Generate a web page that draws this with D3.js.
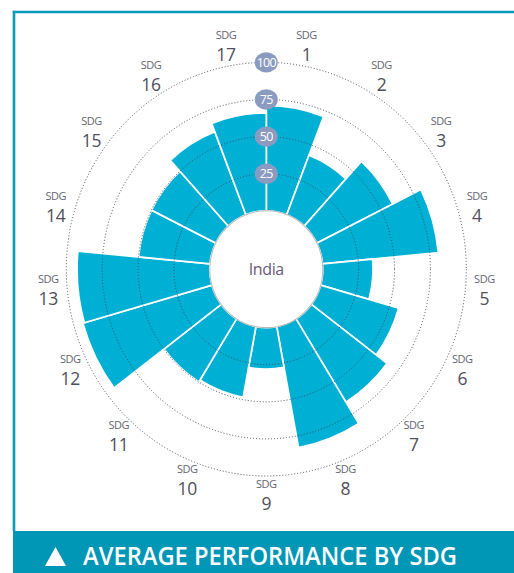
<!DOCTYPE html>
<html><head><meta charset="utf-8">
<script src="https://cdn.jsdelivr.net/npm/d3@7"></script>
<style>html,body{margin:0;padding:0;background:#fff;} svg{display:block;font-family:"Open Sans",sans-serif;}</style>
</head><body><svg id="c" width="514" height="573"></svg>
<script>
const goals = ["1","2","3","4","5","6","7","8","9","10","11","12","13","14","15","16","17"];
const scores = [71, 43, 59, 81, 35, 56.5, 66, 83, 28, 48.5, 50, 93.5, 92.5, 50, 50, 60, 66];
const gridTicks = [25, 50, 75, 100];
const goalPrefix = "SDG";
const centreLabel = "India";
const title = "AVERAGE PERFORMANCE BY SDG";

const W = 514, H = 573, cx = 266.3, cy = 269.2, sy = 1.034;
const svg = d3.select("#c");
const r = d3.scaleLinear().domain([0, 100]).range([56.5, 200]);
const ang = d3.scaleBand().domain(goals).range([0, 2 * Math.PI]).padding(0);

// frame
svg.append("rect").attr("x", 13).attr("y", 531).attr("width", W - 13).attr("height", H - 531).attr("fill", "#0096b6");
svg.append("line").attr("x1", 12.8).attr("x2", W).attr("y1", 12).attr("y2", 12).attr("stroke", "#0a9cbc").attr("stroke-width", 2.6);
svg.append("line").attr("x1", 14).attr("x2", 14).attr("y1", 10.7).attr("y2", 531).attr("stroke", "#0a9cbc").attr("stroke-width", 2.6);

const g = svg.append("g").attr("transform", `translate(${cx},${cy}) scale(1,${sy})`);
const data = goals.map((k, i) => ({ k, v: scores[i] }));
const arc = d3.arc()
  .innerRadius(r(0))
  .outerRadius(d => r(d.v))
  .startAngle(d => ang(d.k))
  .endAngle(d => ang(d.k) + ang.bandwidth());
g.selectAll("path.bar").data(data).join("path").attr("class", "bar")
  .attr("d", arc).attr("fill", "#00b0d4").attr("stroke", "#fff").attr("stroke-width", 1.7);

g.selectAll("circle.grid").data(gridTicks).join("circle").attr("class", "grid")
  .attr("r", d => r(d)).attr("fill", "none").attr("stroke", "#3c4456")
  .attr("stroke-width", 0.9).attr("stroke-dasharray", "1 2");

g.append("circle").attr("r", r(0)).attr("fill", "#fff").attr("stroke", "#b8b8b8").attr("stroke-width", 1);

const u = svg.append("g").attr("transform", `translate(${cx},${cy})`);
u.append("text").attr("x", 0).attr("y", 0).attr("dy", "0.35em").attr("text-anchor", "middle")
  .attr("font-size", 16).attr("letter-spacing", -0.4).attr("fill", "#6a5878").text(centreLabel);

const badges = u.selectAll("g.badge").data(gridTicks).join("g").attr("class", "badge")
  .attr("transform", d => `translate(0,${-r(d) * sy})`);
badges.append("ellipse").attr("rx", 11.5).attr("ry", 10.2).attr("fill", "#8b9bc0");
badges.append("text").attr("text-anchor", "middle").attr("dy", "0.36em")
  .attr("font-size", 12.5).attr("letter-spacing", -0.7).attr("fill", "#fff").text(d => d);

// category labels
const R = 219;
const labs = u.selectAll("g.lab").data(goals).join("g").attr("class", "lab")
  .attr("transform", k => {
    const a = ang(k) + ang.bandwidth() / 2;
    return `translate(${R * Math.sin(a)},${-R * Math.cos(a) * sy})`;
  });
labs.append("text").attr("text-anchor", "middle").attr("y", -7.5)
  .attr("font-size", 11).attr("letter-spacing", -0.5).attr("fill", "#666672").text(goalPrefix);
labs.append("text").attr("text-anchor", "middle").attr("y", 14.5)
  .attr("font-size", 17.5).attr("letter-spacing", -0.3).attr("fill", "#4f4f5c").text(k => k);

// title
svg.append("path").attr("d", "M45,566 L55.5,547 L66,566 Z").attr("fill", "#fff");
svg.append("text").attr("x", 83).attr("y", 565).attr("font-size", 25).attr("font-weight", 600)
  .attr("fill", "#fff").attr("textLength", 374).attr("lengthAdjust", "spacingAndGlyphs").text(title);
</script></body></html>
